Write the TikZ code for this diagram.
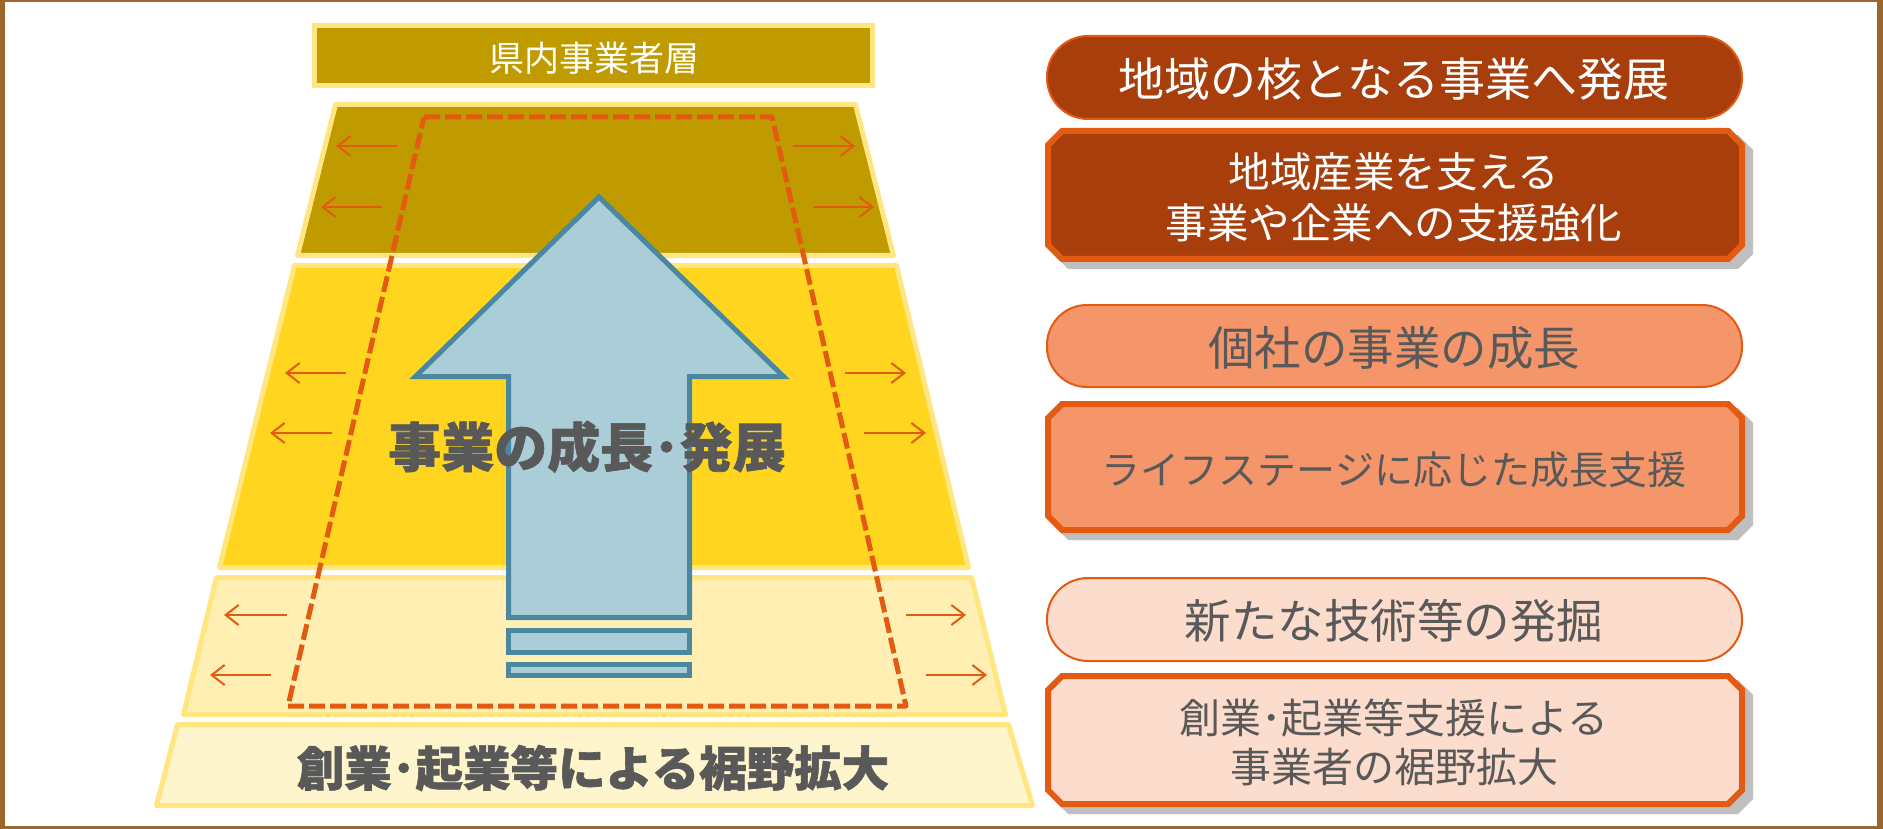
\documentclass[tikz,border=0pt]{standalone}
\usepackage{fontspec}
\newfontfamily\jp{Noto Sans CJK JP}
\newfontfamily\jph{Noto Sans CJK JP}[BoldFeatures={FakeBold=1.2}]
\usetikzlibrary{arrows.meta}
\definecolor{framec}{RGB}{155,103,45}
\definecolor{gold}{RGB}{191,155,0}
\definecolor{lyel}{RGB}{255,230,128}
\definecolor{byel}{RGB}{255,213,32}
\definecolor{pyel}{RGB}{255,239,179}
\definecolor{ppyel}{RGB}{255,245,204}
\definecolor{ablue}{RGB}{171,205,216}
\definecolor{bblue}{RGB}{74,135,160}
\definecolor{oran}{RGB}{227,90,18}
\definecolor{rust}{RGB}{168,62,12}
\definecolor{salmon}{RGB}{244,150,106}
\definecolor{peach}{RGB}{251,220,205}
\definecolor{tgray}{RGB}{89,89,89}
\definecolor{shgray}{RGB}{191,191,191}
\newcommand{\octagon}[5]{(#1+#5,#2) -- (#3-#5,#2) -- (#3,#2+#5) -- (#3,#4-#5) -- (#3-#5,#4) -- (#1+#5,#4) -- (#1,#4-#5) -- (#1,#2+#5) -- cycle}
\newcommand{\fsz}[1]{\fontsize{#1}{#1}\selectfont}
\tikzset{
  layer/.style={draw=lyel, line width=5pt, line join=round},
  sarr/.style={draw=oran, line width=2pt, -{Straight Barb[length=13pt,width=20pt]}},
  jt/.style={inner sep=0pt, anchor=base},
  pill/.style={draw=oran, line width=2pt},
  octbox/.style={draw=oran, line width=6pt, line join=miter},
  shadowbox/.style={fill=shgray},
}
\begin{document}
\begin{tikzpicture}[x=1pt, y=-1pt]
\useasboundingbox (0,0) rectangle (1883,829);
% frame
\fill[framec] (0,0) rectangle (1883,829);
\fill[white] (5,2) rectangle (1877,826);

% top label box
\draw[layer, fill=gold, line join=miter] (314.5,25.5) rectangle (872.5,85.5);
\node[jt, text=white, font=\jp\fsz{35}] (toplabel) at (594,71.5) {県内事業者層};

% pyramid layers
\draw[layer, fill=gold] (335.5,104.5) -- (855.5,104.5) -- (893.5,255.5) -- (297.5,255.5) -- cycle;
\draw[layer, fill=byel] (294.5,265.5) -- (896.5,265.5) -- (968.5,567.5) -- (219.5,567.5) -- cycle;
\draw[layer, fill=pyel] (216.5,577.5) -- (971.5,577.5) -- (1005.5,714.5) -- (183.5,714.5) -- cycle;
\draw[layer, fill=ppyel] (177.5,724.5) -- (1008.5,724.5) -- (1032.5,805.5) -- (156.5,805.5) -- cycle;

% small arrows
\draw[sarr] (397,146) -- (336,146);
\draw[sarr] (382,207) -- (321,207);
\draw[sarr] (793,146) -- (855,146);
\draw[sarr] (813,207) -- (874,207);
\draw[sarr] (346,373) -- (285,373);
\draw[sarr] (332,433) -- (270,433);
\draw[sarr] (845,373) -- (906,373);
\draw[sarr] (864,433) -- (926,433);
\draw[sarr] (287,615) -- (224,615);
\draw[sarr] (271,675) -- (210,675);
\draw[sarr] (906,615) -- (966,615);
\draw[sarr] (926,675) -- (987,675);

% dashed outline
\draw[oran, line width=5pt, line join=round, dash pattern=on 16pt off 5pt] (424,117) -- (772,117) -- (906,706) -- (288,706) -- cycle;

% big arrow
\draw[fill=ablue, draw=bblue, line width=5pt, line join=miter]
  (599,197) -- (783.5,376.5) -- (689.5,376.5) -- (689.5,617.5) -- (508.5,617.5) -- (508.5,376.5) -- (415.5,376.5) -- cycle;
\draw[fill=ablue, draw=bblue, line width=5pt] (508.5,630.5) rectangle (689.5,652.5);
\draw[fill=ablue, draw=bblue, line width=5pt] (508.5,664.5) rectangle (689.5,675.5);

% pyramid texts
\node[jt, text=tgray, font=\jph\bfseries\fsz{53}] (growth) at (587,467) {事業の成長･発展};
\node[jt, text=tgray, font=\jph\bfseries\fsz{47.5}] (base) at (593,786) {創業･起業等による裾野拡大};

% right column
\draw[pill, fill=rust, rounded corners=41pt] (1047,36) rectangle (1742,119);
\node[jt, text=white, font=\jp\fsz{46}] (tA) at (1394,96.5) {地域の核となる事業へ発展};

\fill[shadowbox] \octagon{1053}{135}{1753}{269}{15};
\draw[octbox, fill=rust] \octagon{1048}{131}{1742}{259}{14};
\node[jt, text=white, font=\jp\fsz{41.5}] (tB1) at (1394,188) {地域産業を支える};
\node[jt, text=white, font=\jp\fsz{41.5}] (tB2) at (1394,239) {事業や企業への支援強化};

\draw[pill, fill=salmon, rounded corners=40pt] (1047,305) rectangle (1742,387);
\node[jt, text=tgray, font=\jp\fsz{46.5}] (tC) at (1394,365) {個社の事業の成長};

\fill[shadowbox] \octagon{1053}{408}{1753}{540}{15};
\draw[octbox, fill=salmon] \octagon{1048}{404}{1742}{530}{14};
\node[jt, text=tgray, font=\jp\fsz{39}] (tD) at (1394,484) {ライフステージに応じた成長支援};

\draw[pill, fill=peach, rounded corners=41pt] (1047,578) rectangle (1742,661);
\node[jt, text=tgray, font=\jp\fsz{46.5}] (tE) at (1394,638.5) {新たな技術等の発掘};

\fill[shadowbox] \octagon{1053}{680}{1753}{814}{15};
\draw[octbox, fill=peach] \octagon{1048}{676}{1742}{804}{14};
\node[jt, text=tgray, font=\jp\fsz{41}] (tF1) at (1394,733) {創業･起業等支援による};
\node[jt, text=tgray, font=\jp\fsz{41}] (tF2) at (1394,782.5) {事業者の裾野拡大};
\end{tikzpicture}
\end{document}
